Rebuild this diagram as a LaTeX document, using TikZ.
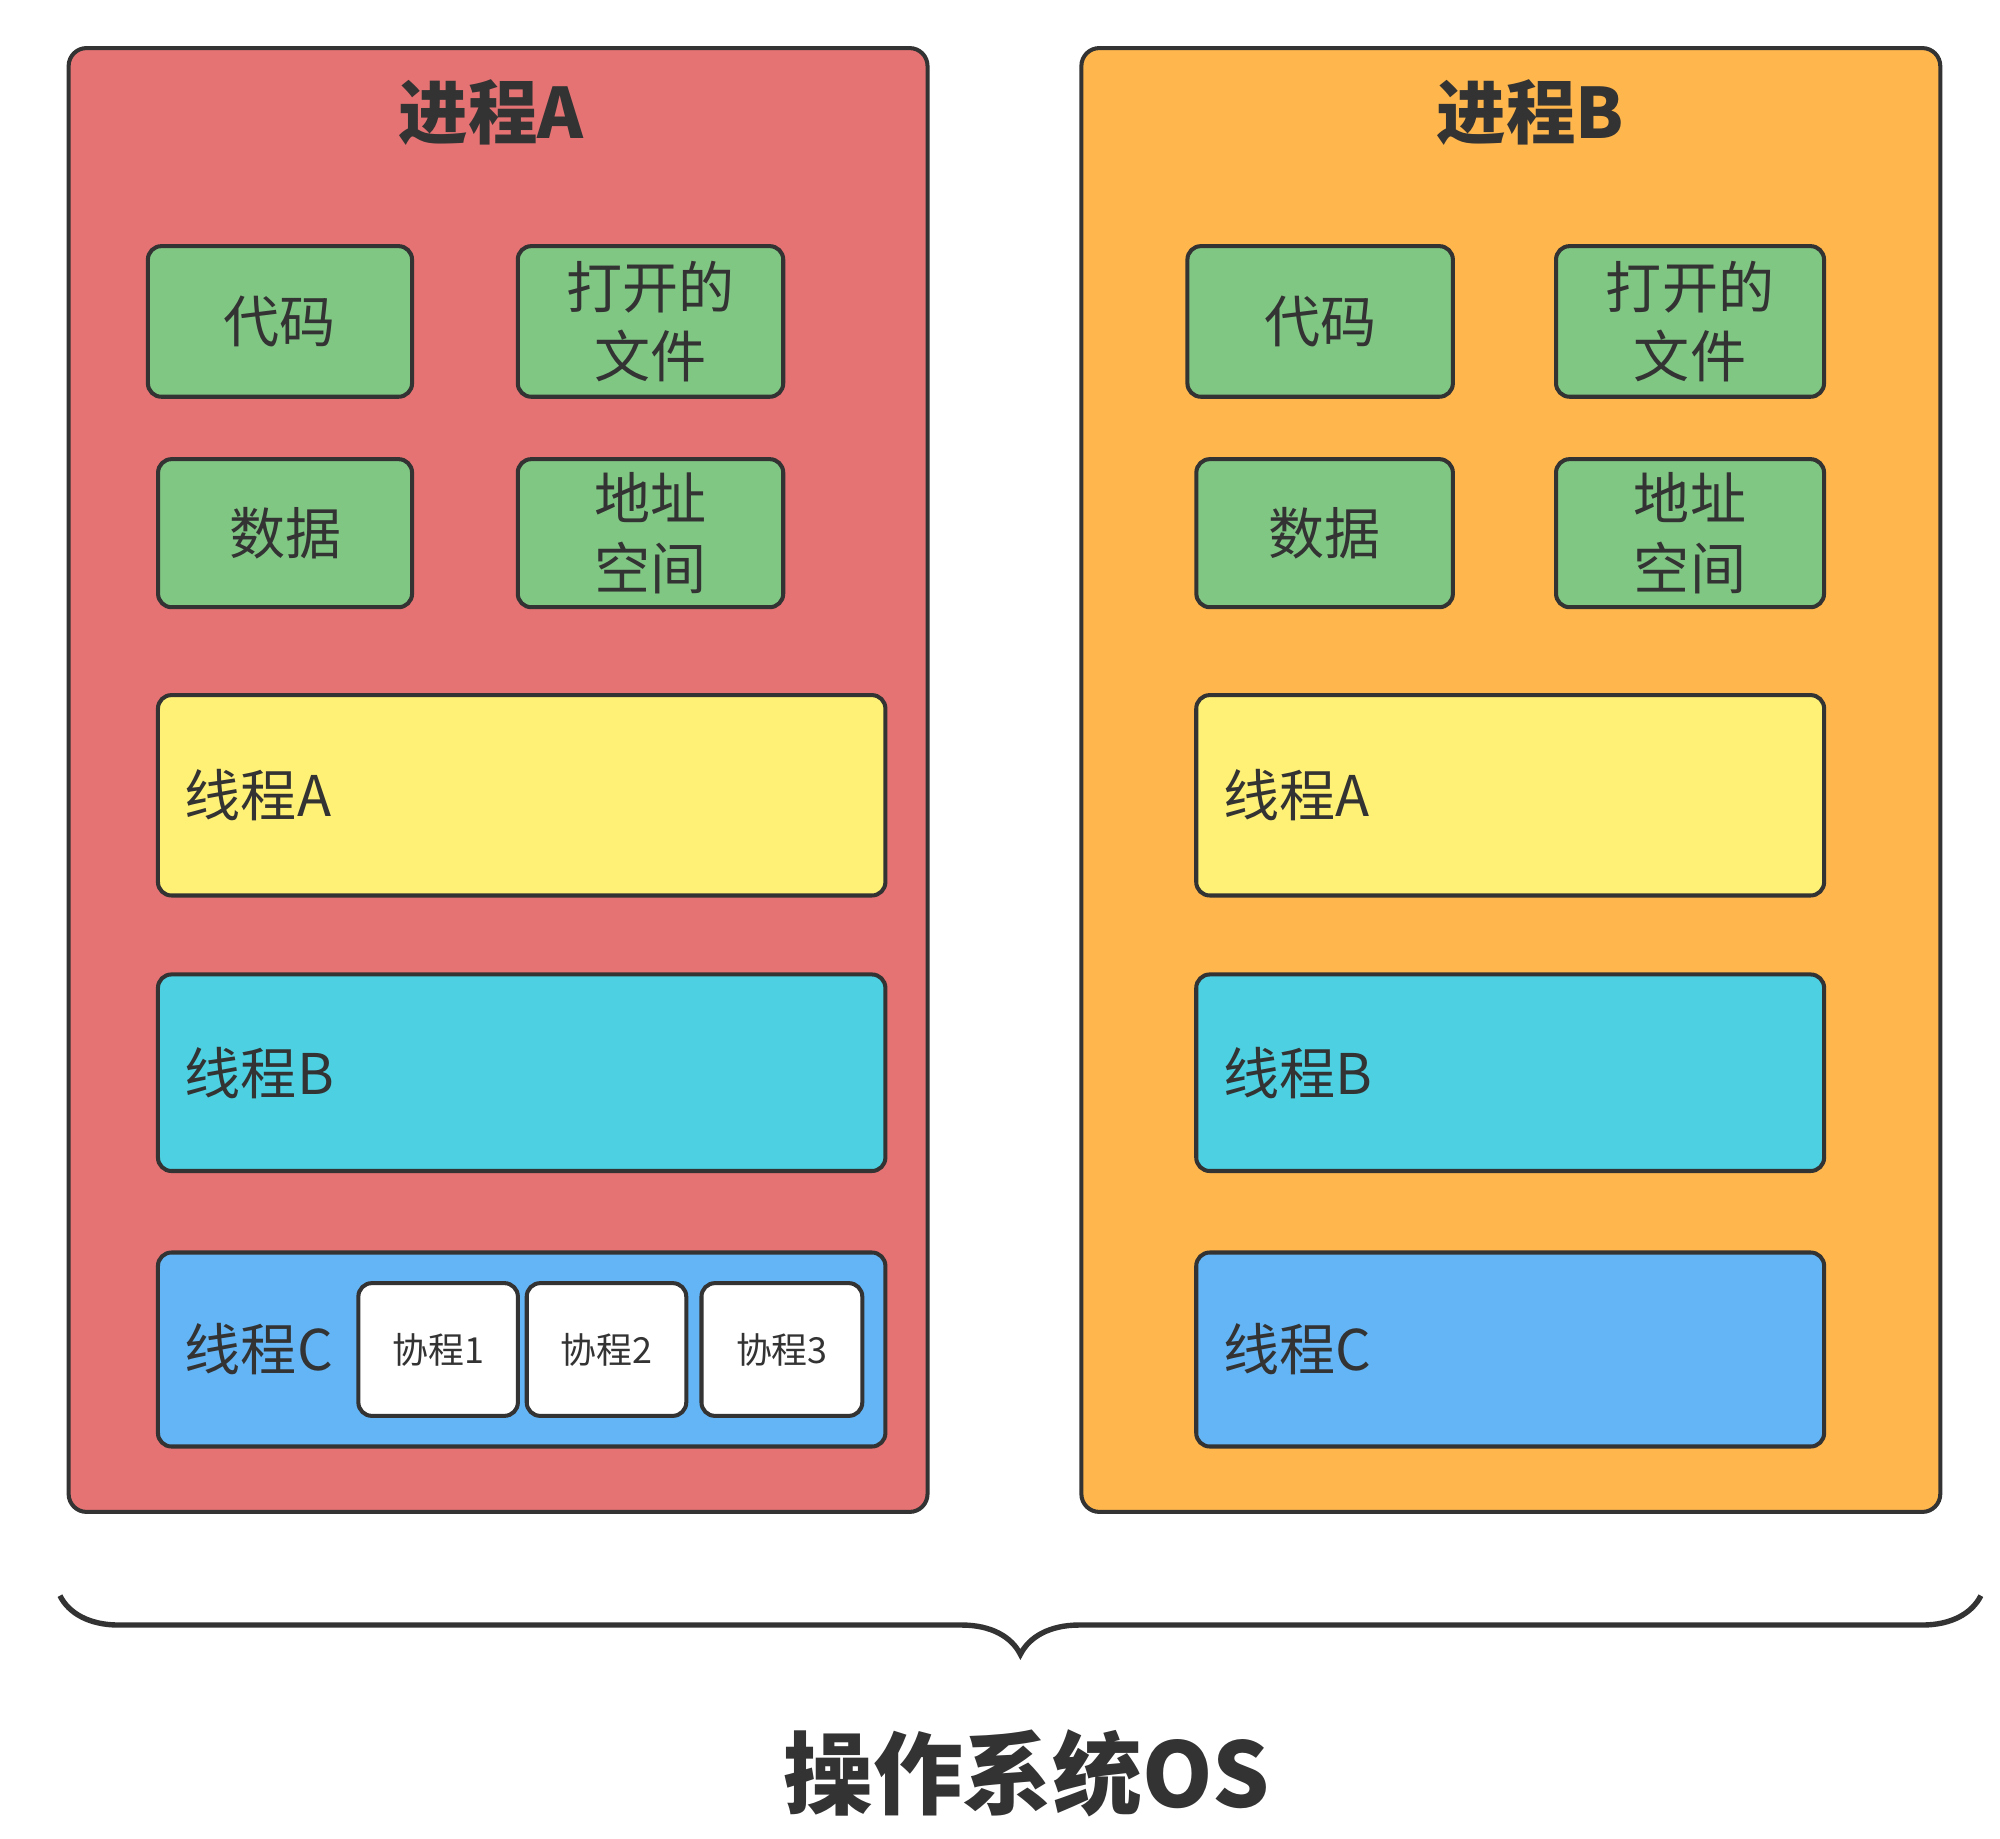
\documentclass[tikz,border=0pt]{standalone}
\usepackage{fontspec}
\usetikzlibrary{decorations.pathreplacing}
\newfontfamily\cjk{Noto Sans CJK SC}
\definecolor{ink}{HTML}{333333}
\definecolor{procred}{HTML}{E57373}
\definecolor{procorange}{HTML}{FFB74D}
\definecolor{resgreen}{HTML}{81C784}
\definecolor{thyellow}{HTML}{FFF176}
\definecolor{thcyan}{HTML}{4DD0E1}
\definecolor{thblue}{HTML}{64B5F6}
\tikzset{
  proc/.style={draw=ink, line width=0.9pt, rounded corners=4pt, inner sep=0pt},
  res/.style={draw=ink, line width=0.9pt, rounded corners=3pt, fill=resgreen,
    inner sep=0pt, align=center, text=ink, font=\cjk\fontsize{12.5}{15.4}\selectfont},
  thr/.style={draw=ink, line width=0.9pt, rounded corners=3pt, inner sep=0pt},
  thlab/.style={inner sep=0pt, text=ink, font=\cjk\fontsize{12.5}{15}\selectfont},
  co/.style={draw=ink, line width=0.9pt, rounded corners=3pt, fill=white, inner sep=0pt,
    minimum height=1.04cm, text=ink, font=\cjk\fontsize{8}{10}\selectfont},
  ttl/.style={text=ink, font=\cjk\bfseries\fontsize{15.5}{18}\selectfont},
}
\begin{document}
\begin{tikzpicture}[x=0.01cm, y=-0.01cm]
    \useasboundingbox (0,0) rectangle (1568,1441);
    % process A: resources, three threads, coroutines in thread C
    \begin{scope}
      \node[proc, fill=procred, minimum width=6.73cm, minimum height=11.47cm] (pA) at (390.5,611.5) {};
      \node[ttl] (pA-title) at (385,88) {进程A};
      \node[res, minimum width=2.07cm, minimum height=1.18cm] (pA-code) at (219.5,252) {代码};
      \node[res, minimum width=2.08cm, minimum height=1.18cm] (pA-file) at (510,252) {打开的\\文件};
      \node[res, minimum width=1.99cm, minimum height=1.16cm] (pA-data) at (223.5,418) {数据};
      \node[res, minimum width=2.08cm, minimum height=1.16cm] (pA-addr) at (510,418) {地址\\空间};
      \foreach \t/\y/\h/\col in {A/623.5/1.57/thyellow, B/841/1.54/thcyan, C/1058/1.52/thblue} {
        \node[thr, fill=\col, minimum width=5.70cm, minimum height=\h cm] (pA-t\t) at (409,\y) {};
        \node[thlab, anchor=west] (pA-t\t-lab) at ([xshift=0.22cm]pA-t\t.west) {线程\t};
      }
      \foreach \k/\x/\w in {1/343.5/1.25, 2/475.5/1.25, 3/613/1.26}
        \node[co, minimum width=\w cm] (pA-co\k) at (\x,1058) {协程\k};
    \end{scope}
    % process B: same resources, three threads
    \begin{scope}
      \node[proc, fill=procorange, minimum width=6.73cm, minimum height=11.47cm] (pB) at (1184.5,611.5) {};
      \node[ttl] (pB-title) at (1200,88) {进程B};
      \node[res, minimum width=2.08cm, minimum height=1.18cm] (pB-code) at (1035,252) {代码};
      \node[res, minimum width=2.10cm, minimum height=1.18cm] (pB-file) at (1325,252) {打开的\\文件};
      \node[res, minimum width=2.01cm, minimum height=1.16cm] (pB-data) at (1038.5,418) {数据};
      \node[res, minimum width=2.10cm, minimum height=1.16cm] (pB-addr) at (1325,418) {地址\\空间};
      \foreach \t/\y/\h/\col in {A/623.5/1.57/thyellow, B/841/1.54/thcyan, C/1058/1.52/thblue} {
        \node[thr, fill=\col, minimum width=4.92cm, minimum height=\h cm] (pB-t\t) at (1184,\y) {};
        \node[thlab, anchor=west] (pB-t\t-lab) at ([xshift=0.22cm]pB-t\t.west) {线程\t};
      }
    \end{scope}
    % brace over both processes
    \coordinate (braceL) at (47,1251);
    \coordinate (braceR) at (1553,1251);
    \draw[ink, line width=1.2pt, decorate, decoration={brace, amplitude=0.46cm, mirror}] (braceL) -- (braceR);
    \node[ttl, font=\cjk\bfseries\fontsize{20}{24}\selectfont] (os) at (805,1390) {操作系统OS};
  \end{tikzpicture}
\end{document}
